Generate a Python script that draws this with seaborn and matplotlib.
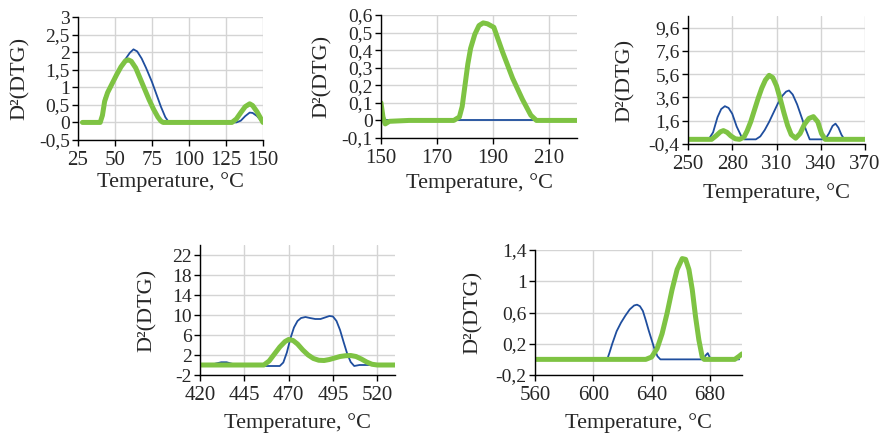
import matplotlib
matplotlib.use("Agg")
import matplotlib.pyplot as plt
from matplotlib.ticker import FixedLocator, FuncFormatter
import seaborn as sns

# ---- panel 1 (25-150 C) ----
blue1_x = [28, 40, 41.5, 43, 45, 48, 51, 54, 57, 60, 62.5, 65, 68, 71, 75, 78, 81, 84, 86.5,
           100, 120, 132, 135, 138, 141, 143, 146, 148, 150]
blue1_y = [0, 0, 0.3, 0.7, 0.9, 1.15, 1.4, 1.6, 1.8, 1.98, 2.08, 2.02, 1.82, 1.55, 1.15, 0.8, 0.45, 0.15, 0,
           0, 0, 0, 0.05, 0.18, 0.28, 0.27, 0.18, 0.08, 0]
green1_x = [28, 40, 41.5, 43, 45, 48, 51, 54, 57, 59, 61, 64, 67, 70, 73, 76, 79, 81, 82.5,
            100, 120, 129, 132, 135, 138, 141, 143, 146, 148, 150]
green1_y = [0, 0, 0.2, 0.6, 0.85, 1.1, 1.35, 1.58, 1.75, 1.78, 1.74, 1.55, 1.25, 0.95, 0.65, 0.38, 0.15, 0.04, 0,
            0, 0, 0, 0.1, 0.28, 0.45, 0.53, 0.48, 0.3, 0.15, 0]

# ---- panel 2 (150-220 C) ----
blue2_x = [150, 220]
blue2_y = [0, 0]
green2_x = [150, 150.7, 151.5, 153, 160, 170, 176, 178, 179, 180, 181, 182, 183.5, 185, 186.5, 188,
            190.3, 193.4, 197, 200.5, 203.5, 205.5, 210, 220]
green2_y = [0.1, 0.02, -0.02, -0.005, 0, 0, 0, 0.02, 0.08, 0.2, 0.32, 0.41, 0.49, 0.54, 0.555, 0.55,
            0.53, 0.39, 0.24, 0.12, 0.03, 0, 0, 0]

# ---- panel 3 (250-370 C) ----
blue3_x = [250, 264, 267, 270, 272.5, 275, 277.5, 280, 283, 286, 288, 296, 299, 302, 305, 308, 311, 314,
           316.5, 318.5, 321, 324, 327, 330, 332.5, 343, 345.5, 348, 350, 352, 354, 356, 370]
blue3_y = [0, 0, 0.6, 1.9, 2.6, 2.85, 2.7, 2.2, 1.1, 0.3, 0, 0, 0.25, 0.8, 1.5, 2.3, 3.1, 3.75,
           4.1, 4.2, 3.85, 3.0, 1.9, 0.8, 0, 0, 0.5, 1.15, 1.35, 1.0, 0.4, 0, 0]
green3_x = [250, 266, 269, 272, 274, 276.5, 279, 282, 285, 288, 290, 292.5, 295, 297.5, 300, 302.5, 305,
            307.5, 310, 312.5, 315, 317.5, 320, 323, 326, 329, 332, 335, 338, 340.5, 343, 370]
green3_y = [0, 0, 0.3, 0.65, 0.75, 0.6, 0.3, 0.05, 0, 0.2, 0.7, 1.5, 2.5, 3.5, 4.4, 5.1, 5.5,
            5.3, 4.6, 3.5, 2.3, 1.2, 0.4, 0.1, 0.5, 1.3, 1.8, 1.95, 1.5, 0.5, 0, 0]

# ---- panel 4 (420-530 C) ----
blue4_x = [420, 426, 429, 432, 435, 438, 441, 455, 465, 467, 469, 471, 473, 475, 477, 479.5, 482, 485,
           488, 490.5, 493, 495, 497, 499, 501, 503, 505, 507, 510, 530]
blue4_y = [0, 0, 0.3, 0.55, 0.55, 0.25, 0, -0.2, -0.2, 0.5, 2.5, 5.3, 7.5, 8.8, 9.4, 9.6, 9.4, 9.2,
           9.2, 9.5, 9.8, 9.7, 8.8, 7.0, 4.6, 2.3, 0.6, -0.2, 0, 0]
green4_x = [420, 456, 459, 462, 465, 468, 470, 472.5, 475, 478, 481, 484, 487, 490, 493, 496, 499, 502,
            505, 508, 511, 514, 517, 520, 530]
green4_y = [0, 0, 0.8, 2.2, 3.6, 4.7, 5.1, 4.9, 4.2, 3.0, 2.0, 1.3, 0.95, 0.9, 1.1, 1.4, 1.7, 1.85,
            1.9, 1.7, 1.2, 0.6, 0.15, 0, 0]

# ---- panel 5 (560-700 C) ----
blue5_x = [560, 609.5, 611, 613, 616, 619, 622, 625, 628, 630, 632, 634, 636, 638, 640, 642, 644, 646,
           675, 677, 678.5, 680, 700]
blue5_y = [0, 0, 0.08, 0.2, 0.36, 0.47, 0.56, 0.64, 0.69, 0.70, 0.68, 0.62, 0.5, 0.37, 0.25, 0.13, 0.04, 0,
           0, 0.05, 0.08, 0.02, 0]
green5_x = [560, 636, 640, 643.8, 647.2, 650.6, 654, 657.5, 661, 663.3, 665.6, 667.9, 670.1, 672.4, 674.7,
            676, 697, 700, 702]
green5_y = [0, 0, 0.03, 0.14, 0.33, 0.59, 0.89, 1.15, 1.29, 1.28, 1.15, 0.89, 0.55, 0.25, 0.03,
            0, 0, 0.04, 0.07]

# tick values
xticks1 = [25, 50, 75, 100, 125, 150]
yticks1 = [-0.5, 0, 0.5, 1, 1.5, 2, 2.5, 3]
xticks2 = [150, 170, 190, 210]
yticks2 = [-0.1, 0, 0.1, 0.2, 0.3, 0.4, 0.5, 0.6]
xticks3 = [250, 280, 310, 340, 370]
yticks3 = [-0.4, 1.6, 3.6, 5.6, 7.6, 9.6]
xticks4 = [420, 445, 470, 495, 520]
yticks4 = [-2, 2, 6, 10, 14, 18, 22]
xticks5 = [560, 600, 640, 680]
yticks5 = [-0.2, 0.2, 0.6, 1, 1.4]

BLUE = "#1f4e9e"
GREEN = "#7ec343"

sns.set_style("white")
plt.rcParams["font.family"] = ["Liberation Serif", "DejaVu Serif"]
plt.rcParams["axes.unicode_minus"] = False

fig = plt.figure(figsize=(8.84, 4.34), dpi=100)
W, H = 884.0, 434.0


def make_ax(left, right, top, bottom):
    return fig.add_axes([left / W, 1 - bottom / H, (right - left) / W, (bottom - top) / H])


def comma(v, pos=None):
    return "{:g}".format(round(v, 3)).replace(".", ",")


# box in pixels (left, right, top, bottom), then label offsets in pixels (ylabel, xlabel)
panels = [
    ((78, 263, 17, 140), (58, 42), blue1_x, blue1_y, green1_x, green1_y, xticks1, yticks1, (25, 150), (-0.5, 3)),
    ((381, 577, 15, 138), (59, 45), blue2_x, blue2_y, green2_x, green2_y, xticks2, yticks2, (150, 220), (-0.1, 0.6)),
    ((688, 865, 16, 144), (63, 49), blue3_x, blue3_y, green3_x, green3_y, xticks3, yticks3, (250, 370), (-0.4, 10.6)),
    ((200, 395, 245, 375), (53, 48), blue4_x, blue4_y, green4_x, green4_y, xticks4, yticks4, (420, 530), (-2, 24)),
    ((535, 742, 250, 375), (62, 48), blue5_x, blue5_y, green5_x, green5_y, xticks5, yticks5, (560, 702), (-0.2, 1.4)),
]

for box, offs, bx, by, gx, gy, xt, yt, xl, yl in panels:
    ax = make_ax(*box)
    wpx = box[1] - box[0]
    hpx = box[3] - box[2]
    sns.lineplot(x=bx, y=by, ax=ax, color=BLUE, linewidth=1.3, sort=False)
    sns.lineplot(x=gx, y=gy, ax=ax, color=GREEN, linewidth=3.6, sort=False, solid_capstyle="round")
    ax.set_xlim(*xl)
    ax.set_ylim(*yl)
    ax.xaxis.set_major_locator(FixedLocator(xt))
    ax.yaxis.set_major_locator(FixedLocator(yt))
    ax.yaxis.set_major_formatter(FuncFormatter(comma))
    ax.grid(True, color="#d4d4d4", linewidth=1.0)
    ax.set_axisbelow(True)
    for s in ["top", "right"]:
        ax.spines[s].set_visible(False)
    for s in ["left", "bottom"]:
        ax.spines[s].set_color("black")
        ax.spines[s].set_linewidth(1.0)
    ax.tick_params(axis="both", direction="out", length=4, width=1, color="black",
                   bottom=True, left=True)
    ax.tick_params(axis="x", labelsize=15, pad=4)
    ax.tick_params(axis="y", labelsize=14, pad=2)
    ax.set_xlabel("Temperature, °C", fontsize=16, va="center")
    ax.set_ylabel("D²(DTG)", fontsize=16, va="center")
    ax.yaxis.set_label_coords(-offs[0] / wpx, 0.5)
    ax.xaxis.set_label_coords(0.5, -offs[1] / hpx)

fig.savefig("out.png", dpi=100, facecolor="white")
